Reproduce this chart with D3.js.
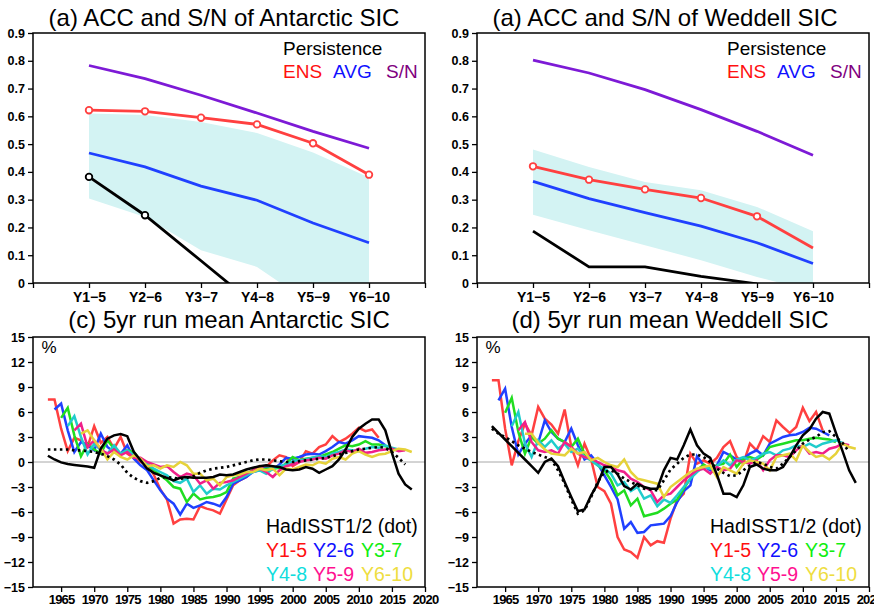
<!DOCTYPE html>
<html lang="en">
<head>
<meta charset="utf-8">
<title>ACC and S/N of SIC</title>
<style type="text/css">
body { margin: 0; background: #fff; }
svg text { font-family: "Liberation Sans", Arial, Helvetica, sans-serif; }
</style>
<script type="text/javascript" src="https://d3js.org/d3.v7.min.js"></script>
</head>
<body>
<script type="text/javascript">
// ---- top panels: lead times ----
var leads = ["Y1\u22125", "Y2\u22126", "Y3\u22127", "Y4\u22128", "Y5\u22129", "Y6\u221210"];

// Antarctic
var snAnt   = [0.783, 0.736, 0.676, 0.612, 0.546, 0.485];
var ensAnt  = [0.622, 0.618, 0.595, 0.571, 0.503, 0.390];
var avgAnt  = [0.468, 0.418, 0.349, 0.298, 0.216, 0.145];
var hiAnt   = [0.610, 0.605, 0.580, 0.540, 0.470, 0.380];
var loAnt   = [0.304, 0.238, 0.118, 0.058, -0.080, -0.150];
var persAnt = [0.382, 0.244, 0.080, -0.085];
var ensMarkAnt  = [1, 1, 1, 1, 1, 1];
var persMarkAnt = [1, 1, 0, 0];

// Weddell
var snWed   = [0.802, 0.756, 0.696, 0.624, 0.546, 0.460];
var ensWed  = [0.420, 0.372, 0.337, 0.306, 0.240, 0.126];
var avgWed  = [0.366, 0.304, 0.253, 0.205, 0.145, 0.070];
var hiWed   = [0.481, 0.418, 0.364, 0.334, 0.274, 0.186];
var loWed   = [0.246, 0.190, 0.136, 0.082, 0.022, -0.030];
var persWed = [0.187, 0.058, 0.058, 0.024, -0.003];
var ensMarkWed  = [1, 1, 1, 1, 1, 0];
var persMarkWed = [0, 0, 0, 0, 0];

// ---- bottom panels: 5yr running means (%) ----
var yearTicks = [1965, 1970, 1975, 1980, 1985, 1990, 1995, 2000, 2005, 2010, 2015, 2020];
var leadNames = ["Y1-5", "Y2-6", "Y3-7", "Y4-8", "Y5-9", "Y6-10"];
var leadStart = [1963, 1964, 1965, 1966, 1967, 1968];

// Antarctic, observed (1963-2018) and HadISST (1963-2017)
var obsAnt = [0.75,0.3,-0.05,-0.25,-0.35,-0.45,-0.55,-0.7,1.6,2.8,
  3.2,3.35,3.1,1.2,0.2,-0.8,-1.3,-1.6,-1.9,-2.2,
  -1.9,-1.8,-1.9,-1.9,-1.9,-1.8,-1.5,-1.6,-1.5,-1.2,
  -0.9,-0.7,-0.5,-0.4,-0.5,-0.6,-0.9,-1.0,-0.9,-0.6,
  -0.8,-1.3,-0.9,-0.5,0.3,1.5,3.0,4.0,4.6,5.1,
  5.1,3.8,1.1,-1.4,-2.7,-3.3];
var hadAnt = [1.5,1.5,1.5,1.5,1.4,1.4,1.3,1.2,1.0,0.7,
  0.3,-0.3,-1.3,-1.9,-2.3,-2.5,-2.3,-1.9,-1.8,-1.9,
  -2.0,-1.9,-1.7,-1.3,-1.0,-0.8,-0.7,-0.6,-0.4,-0.2,
  0.0,0.2,0.3,0.3,0.2,0.1,0.0,0.0,0.1,0.2,
  0.3,0.4,0.5,0.7,0.9,1.1,1.3,1.5,1.6,1.7,
  1.8,1.7,1.2,0.5,-0.3];
// model leads, each 51 values starting at leadStart
var y15Ant = [7.5,7.5,4.0,1.3,2.9,2.6,1.8,4.3,2.3,3.0,
  1.6,3.0,1.0,0.5,0.0,-0.3,-1.5,-3.3,-4.5,-7.4,
  -6.9,-6.8,-6.9,-5.3,-5.6,-5.8,-6.2,-4.5,-2.8,-2.2,
  -1.8,-1.0,-0.5,-0.6,0.2,0.8,0.6,-0.5,0.0,1.3,
  1.0,1.8,2.1,3.1,2.4,2.8,3.4,4.1,3.7,3.9,2.9];
var y26Ant = [6.3,7.0,3.8,1.2,2.4,2.0,1.4,3.4,1.8,1.2,
  1.0,2.0,0.4,-0.4,-1.0,-2.2,-3.4,-4.4,-5.0,-6.3,
  -5.0,-5.5,-5.2,-4.8,-5.0,-5.3,-4.2,-2.6,-2.2,-1.8,
  -1.2,-1.0,-0.7,-0.9,-0.3,0.5,0.4,0.6,0.9,1.0,
  0.9,1.3,1.8,2.4,2.2,2.6,3.1,3.0,2.9,2.6,2.0];
var y37Ant = [5.3,6.5,3.2,0.7,2.2,1.5,1.0,2.6,1.6,1.0,
  1.4,1.2,0.2,-0.3,-1.0,-1.6,-2.2,-3.0,-3.2,-4.8,
  -3.8,-4.5,-4.3,-4.2,-4.0,-3.6,-2.0,-1.8,-1.4,-1.0,
  -1.0,-0.8,-0.8,-0.7,-0.2,0.6,0.2,0.4,0.5,0.6,
  0.9,1.2,1.6,2.0,1.9,2.1,2.5,2.1,2.1,1.9,1.6];
var y48Ant = [4.3,5.5,3.0,0.9,2.2,1.4,1.0,2.0,1.0,1.4,
  0.8,0.3,-0.2,-0.8,-1.2,-1.6,-2.3,-2.5,-2.0,-3.6,
  -2.8,-3.8,-3.2,-3.3,-2.8,-2.4,-2.0,-1.6,-1.2,-1.0,
  -1.4,-0.8,-0.5,-0.3,0.1,0.2,0.3,0.5,0.7,0.6,
  1.0,1.2,1.5,1.4,1.3,1.6,1.8,1.7,2.0,1.7,1.5];
var y59Ant = [3.8,4.6,1.8,2.6,1.5,1.0,1.5,0.8,1.2,0.5,
  0.5,0.0,-0.3,-0.6,-0.5,-1.2,-1.8,-1.4,-1.6,-2.6,
  -2.2,-3.2,-2.5,-2.4,-2.2,-1.8,-1.4,-1.0,-0.8,-1.2,
  -1.8,-1.0,-0.5,-0.3,0.0,0.2,0.3,0.5,0.4,0.8,
  1.0,1.4,1.2,1.6,1.1,1.2,1.4,1.5,1.6,1.3,1.4];
var y610Ant = [3.4,3.8,2.6,1.6,0.3,1.2,0.6,0.3,0.8,0.4,
  -0.5,-0.4,-0.8,-0.4,-0.6,0.0,-0.4,-1.4,-1.4,-2.2,
  -2.0,-2.8,-1.8,-1.6,-1.5,-1.2,-1.2,-0.8,-1.0,-0.8,
  -1.6,-0.8,-0.9,-0.6,-0.3,-0.4,0.0,-0.2,0.4,0.6,
  0.3,1.0,1.3,0.9,0.6,0.9,1.0,1.3,1.6,1.5,1.2];

// Weddell
var obsWed = [4.3,3.5,2.7,1.9,1.1,0.3,-0.5,-1.3,0.0,0.4,
  -0.5,-2.4,-4.2,-5.9,-5.7,-4.0,-2.6,-0.6,-0.6,-1.5,
  -2.9,-3.3,-2.6,-3.0,-3.2,-3.2,-1.0,0.5,0.3,2.0,
  3.9,2.0,1.0,0.5,-1.5,-3.8,-3.8,-4.2,-2.8,-0.6,
  -0.3,-0.8,-1.0,-1.0,-0.6,0.6,2.0,3.2,3.9,5.2,
  6.0,5.8,3.5,1.3,-1.0,-2.5];
var hadWed = [4.0,3.4,3.0,2.5,2.0,1.6,1.2,0.9,0.6,0.3,
  -1.0,-2.6,-4.5,-6.2,-5.8,-4.2,-2.4,-1.2,-1.0,-1.4,
  -2.0,-2.4,-2.8,-3.2,-3.3,-3.4,-2.2,-0.9,-0.2,0.5,
  0.9,0.9,0.6,0.0,-0.8,-1.3,-1.7,-1.6,-1.0,-0.4,
  0.0,-0.2,-0.6,-0.8,-0.2,0.6,1.4,2.2,2.7,3.0,
  3.6,3.7,3.0,2.3,1.2];
var y15Wed = [9.8,9.8,4.0,-0.4,2.5,4.6,3.2,6.6,5.2,4.5,
  3.4,6.3,1.8,-0.4,2.2,0.3,-3.0,-3.5,-5.0,-9.0,
  -10.5,-10.8,-11.5,-9.0,-10.0,-9.5,-9.7,-6.8,-4.6,-3.8,
  1.0,-0.2,0.2,-0.2,0.5,1.8,2.5,0.6,-0.2,2.2,
  1.4,3.1,2.4,5.0,4.2,3.5,4.2,6.5,4.9,6.0,3.8];
var y26Wed = [7.4,8.8,4.2,0.9,2.2,3.2,2.3,5.0,3.6,2.8,
  2.4,4.0,2.0,0.3,0.8,-0.2,-1.6,-3.0,-4.5,-8.0,
  -7.2,-8.5,-8.4,-7.6,-7.5,-7.4,-6.5,-4.8,-3.5,-2.8,
  0.7,-0.4,-1.0,-0.4,1.2,0.8,0.3,0.4,1.0,1.4,
  0.8,2.2,2.6,3.0,3.2,3.3,3.6,4.1,4.0,3.6,3.2];
var y37Wed = [5.9,7.7,3.6,1.0,3.0,2.2,2.8,3.8,2.8,2.4,
  1.8,2.8,1.0,0.2,-0.4,-1.0,-2.2,-4.0,-3.4,-5.2,
  -4.4,-6.5,-6.3,-6.1,-5.6,-5.0,-4.5,-3.2,-2.0,-1.0,
  -0.3,-0.8,-0.4,-0.2,0.9,-0.6,0.4,0.6,0.3,0.8,
  1.8,2.0,2.2,2.4,2.6,2.6,2.8,2.9,2.8,2.7,2.4];
var y48Wed = [4.3,6.0,2.2,0.6,2.6,1.8,2.6,1.6,2.2,1.2,
  1.6,0.6,0.2,-0.4,-0.8,-1.4,-2.8,-2.4,-3.5,-3.0,
  -4.4,-4.0,-5.3,-4.5,-4.9,-4.0,-3.0,-2.0,-1.2,-0.6,
  -0.8,-0.5,0.2,-0.4,0.3,0.6,0.2,0.5,1.0,1.2,
  0.8,1.4,1.6,2.0,1.8,2.2,1.8,2.2,2.4,2.6,2.3];
var y59Wed = [3.8,4.8,2.4,1.4,1.2,1.4,1.0,2.4,1.8,1.0,
  0.6,0.4,0.0,-0.4,-0.6,-1.0,-1.2,-2.0,-2.4,-3.0,
  -3.4,-4.8,-4.0,-3.8,-3.0,-2.2,-1.6,-1.0,-0.8,-1.4,
  -0.6,-1.0,-0.8,0.2,0.0,-0.2,0.2,-1.0,0.2,0.8,
  0.8,0.6,1.4,2.0,1.0,1.2,1.0,1.6,1.8,2.2,2.0];
var y610Wed = [3.4,3.4,2.3,1.5,1.0,0.9,0.8,1.6,1.0,1.2,
  0.2,0.5,0.0,-0.4,-0.6,0.3,-1.2,-2.0,-2.2,-2.4,
  -2.6,-4.2,-3.0,-2.4,-1.8,-1.2,-0.8,-0.6,-0.4,-1.8,
  -0.6,-1.0,-1.4,-0.2,0.2,0.0,-0.2,-1.0,0.6,0.8,
  1.0,0.2,2.0,1.2,0.6,0.8,0.3,1.0,2.2,1.8,1.6];

var leadColors = ["#ff4040", "#2040ff", "#20dd20", "#20cccc", "#f0208a", "#e6d23a"];
var legendColors = ["#ff1010", "#1010ff", "#10ee10", "#10dddd", "#ff1090", "#eedd40"];

var w = 874, h = 612;
var pw = 392, ph = 250;

var svg = d3.select("body")
            .append("svg")
            .attr("width", w)
            .attr("height", h);

function styleAxis(ax, size) {
  ax.select(".domain").remove();
  ax.selectAll(".tick line").attr("stroke", "#000").attr("stroke-width", 1.3);
  ax.selectAll(".tick text")
    .attr("font-family", "'Liberation Sans', Arial, sans-serif")
    .attr("font-weight", "bold")
    .attr("font-size", size)
    .attr("fill", "#000");
}

function topPanel(id, left, top, titleX, title, sn, ens, avg, hi, lo, pers, ensMark, persMark) {
  var g = svg.append("g").attr("transform", "translate(" + left + "," + top + ")");
  var x = d3.scaleLinear().domain([0, 7]).range([0, pw]);
  var y = d3.scaleLinear().domain([0, 0.9]).range([ph, 0]);
  var pos = function(d, i) { return x(i + 1); };

  g.append("clipPath").attr("id", id)
   .append("rect").attr("width", pw).attr("height", ph);
  var plot = g.append("g").attr("clip-path", "url(#" + id + ")");

  // spread of members
  plot.append("path")
      .datum(hi.map(function(v, i) { return [v, lo[i]]; }))
      .attr("fill", "#d3f3f3")
      .attr("d", d3.area().x(pos)
                  .y0(function(d) { return y(d[1]); })
                  .y1(function(d) { return y(d[0]); }));

  var line = d3.line().x(pos).y(function(d) { return y(d); });
  var lines = [[sn, "#7d1ad6"], [ens, "#ff4040"], [avg, "#2040ff"], [pers, "#000"]];
  lines.forEach(function(l) {
    plot.append("path").datum(l[0])
        .attr("fill", "none")
        .attr("stroke", l[1])
        .attr("stroke-width", 2.8)
        .attr("d", line);
  });

  ens.forEach(function(d, i) {
    if (ensMark[i]) {
      plot.append("circle").attr("cx", x(i + 1)).attr("cy", y(d)).attr("r", 3.3)
          .attr("fill", "#fff").attr("stroke", "#ff4040").attr("stroke-width", 1.8);
    }
  });
  pers.forEach(function(d, i) {
    if (persMark[i]) {
      plot.append("circle").attr("cx", x(i + 1)).attr("cy", y(d)).attr("r", 3.3)
          .attr("fill", "#fff").attr("stroke", "#000").attr("stroke-width", 1.8);
    }
  });

  var xa = g.append("g").attr("transform", "translate(0," + ph + ")")
            .call(d3.axisBottom(x).tickValues(d3.range(8))
                    .tickFormat(function(i) { return leads[i - 1] || ""; })
                    .tickSize(5).tickPadding(4));
  styleAxis(xa, 14);
  var ya = g.append("g")
            .call(d3.axisLeft(y).tickValues(d3.range(10).map(function(i) { return i / 10; }))
                    .tickFormat(function(v) { return v === 0 ? "0" : d3.format(".1f")(v); })
                    .tickSize(5).tickPadding(3));
  styleAxis(ya, 12.5);

  g.append("rect").attr("width", pw).attr("height", ph)
   .attr("fill", "none").attr("stroke", "#000").attr("stroke-width", 1.5);

  svg.append("text").attr("x", titleX).attr("y", 26)
     .attr("text-anchor", "middle").attr("font-size", 24).text(title);

  // legend
  g.append("text").attr("x", pw - 142).attr("y", 22).attr("font-size", 19).text("Persistence");
  g.append("text").attr("x", pw - 142).attr("y", 45).attr("font-size", 19).attr("fill", "#ff1010").text("ENS");
  g.append("text").attr("x", pw - 92).attr("y", 45).attr("font-size", 19).attr("fill", "#1010ff").text("AVG");
  g.append("text").attr("x", pw - 39).attr("y", 45).attr("font-size", 19).attr("fill", "#800080").text("S/N");
}

function bottomPanel(id, left, top, titleX, title, obs, had, leadVals) {
  var g = svg.append("g").attr("transform", "translate(" + left + "," + top + ")");
  var x = d3.scaleLinear().domain([1960.75, 2020]).range([0, pw]);
  var y = d3.scaleLinear().domain([-15, 15]).range([ph, 0]);

  g.append("clipPath").attr("id", id)
   .append("rect").attr("width", pw).attr("height", ph);
  var plot = g.append("g").attr("clip-path", "url(#" + id + ")");

  plot.append("line").attr("x1", 0).attr("x2", pw).attr("y1", y(0)).attr("y2", y(0))
      .attr("stroke", "#a8a8a8").attr("stroke-width", 1);

  function series(vals, start) {
    return vals.map(function(v, i) { return [start + i, v]; });
  }
  var line = d3.line().x(function(d) { return x(d[0]); }).y(function(d) { return y(d[1]); });

  leadVals.forEach(function(vals, k) {
    plot.append("path").datum(series(vals, leadStart[k]))
        .attr("fill", "none").attr("stroke", leadColors[k])
        .attr("stroke-width", 2.5)
        .attr("d", line);
  });
  plot.append("path").datum(series(obs, 1963))
      .attr("fill", "none").attr("stroke", "#000").attr("stroke-width", 2.5)
      .attr("d", line);
  plot.append("path").datum(series(had, 1963))
      .attr("fill", "none").attr("stroke", "#000").attr("stroke-width", 2.7)
      .attr("stroke-dasharray", "2.5,3.5")
      .attr("d", line);

  var xa = g.append("g").attr("transform", "translate(0," + ph + ")")
            .call(d3.axisBottom(x).tickValues(yearTicks).tickFormat(d3.format("d"))
                    .tickSize(5).tickPadding(3));
  styleAxis(xa, 13);
  xa.selectAll(".tick text").attr("letter-spacing", -0.8);
  var ya = g.append("g")
            .call(d3.axisLeft(y).tickValues(d3.range(-15, 16, 3)).tickFormat(d3.format("d"))
                    .tickSize(5).tickPadding(3));
  styleAxis(ya, 12.5);

  g.append("rect").attr("width", pw).attr("height", ph)
   .attr("fill", "none").attr("stroke", "#000").attr("stroke-width", 1.5);

  svg.append("text").attr("x", titleX).attr("y", 328)
     .attr("text-anchor", "middle").attr("font-size", 24).text(title);

  g.append("text").attr("x", 8.5).attr("y", 16).attr("font-size", 17).text("%");

  g.append("text").attr("x", pw - 159).attr("y", 196).attr("font-size", 19.5).text("HadISST1/2 (dot)");
  var lx = [pw - 159, pw - 112, pw - 64];
  leadNames.forEach(function(n, k) {
    g.append("text").attr("x", lx[k % 3]).attr("y", k < 3 ? 220 : 244)
     .attr("font-size", 19.5).attr("fill", legendColors[k]).text(n);
  });
}

topPanel("clipA", 33, 33, 224, "(a) ACC and S/N of Antarctic SIC",
         snAnt, ensAnt, avgAnt, hiAnt, loAnt, persAnt, ensMarkAnt, persMarkAnt);
topPanel("clipB", 477, 33, 665, "(a) ACC and S/N of Weddell SIC",
         snWed, ensWed, avgWed, hiWed, loWed, persWed, ensMarkWed, persMarkWed);
bottomPanel("clipC", 33, 337, 229, "(c) 5yr run mean Antarctic SIC",
            obsAnt, hadAnt, [y15Ant, y26Ant, y37Ant, y48Ant, y59Ant, y610Ant]);
bottomPanel("clipD", 477, 337, 670, "(d) 5yr run mean Weddell SIC",
            obsWed, hadWed, [y15Wed, y26Wed, y37Wed, y48Wed, y59Wed, y610Wed]);
</script>
</body>
</html>
